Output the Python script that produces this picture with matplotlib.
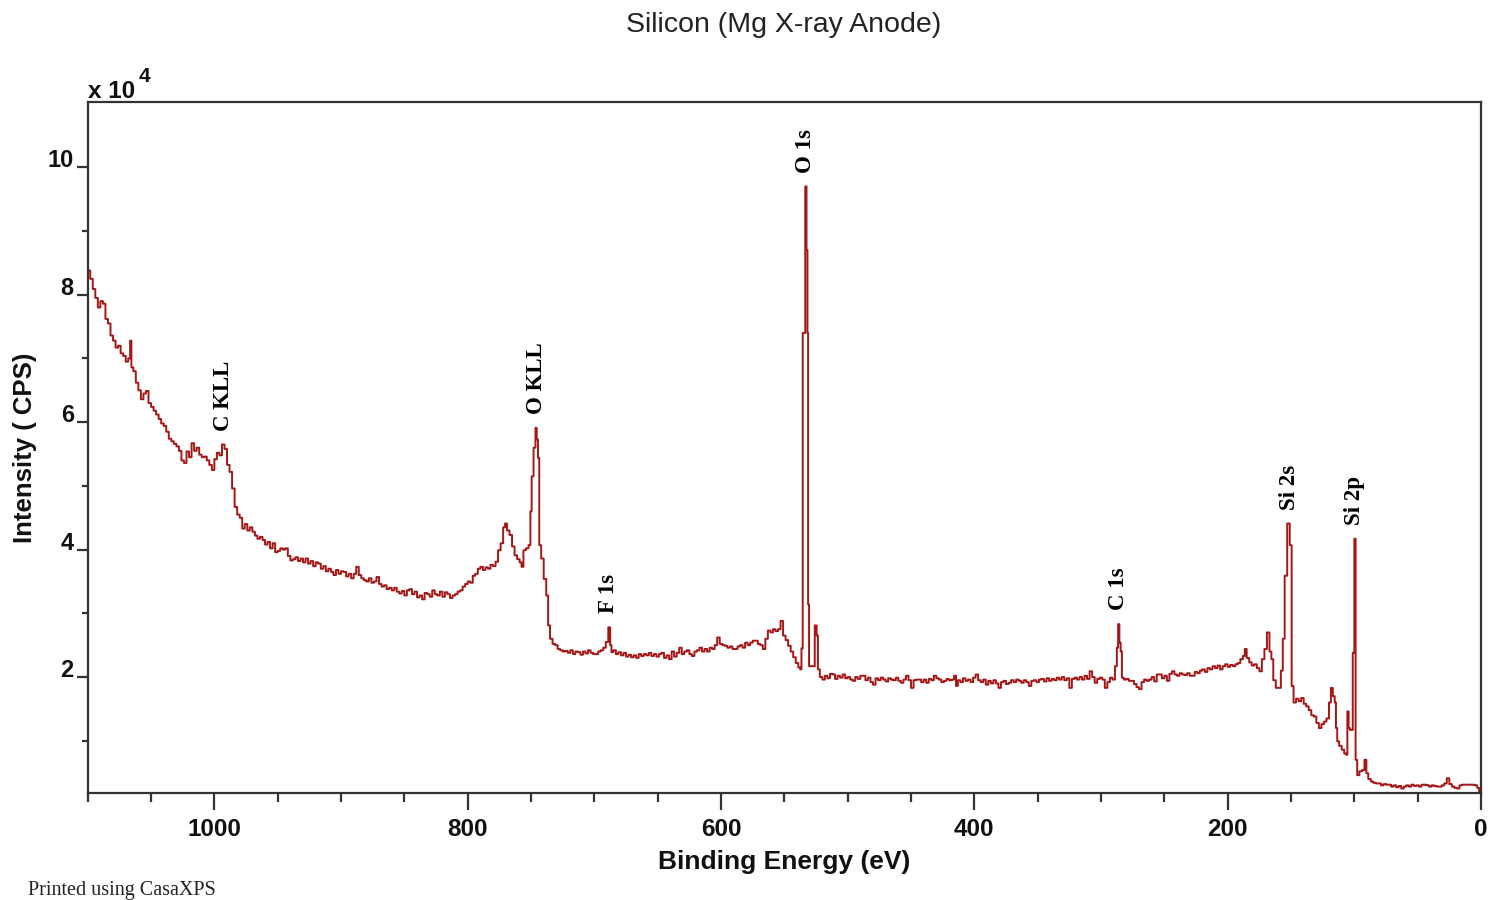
import numpy as np
import matplotlib
matplotlib.use("Agg")
import matplotlib.pyplot as plt
from matplotlib.ticker import MultipleLocator, FixedLocator

# survey spectrum, binding energy (eV) and intensity (x 10^4 CPS)
# background + Auger region, 1100 -> 800 eV
be_auger = [1099, 1097, 1095, 1093, 1091, 1089, 1087, 1085, 1083, 1081, 1079, 1077, 1075, 1073, 1071,
            1069, 1067, 1066, 1065, 1063, 1061, 1059, 1057, 1055, 1053, 1051, 1049, 1047, 1045, 1043,
            1041, 1039, 1037, 1035, 1033, 1031, 1029, 1027, 1025, 1023, 1021, 1019, 1017, 1015, 1013,
            1011, 1009, 1007, 1005, 1003, 1001, 999, 997, 995, 993, 991, 989, 987, 985, 983,
            981, 979, 977, 975, 973, 971, 969, 967, 965, 963, 961, 959, 957, 955, 953,
            951, 949, 947, 945, 943, 941, 939, 937, 935, 933, 931, 929, 927, 925, 923,
            921, 919, 917, 915, 913, 911, 909, 907, 905, 903, 901, 899, 897, 895, 893,
            891, 889, 887, 885, 883, 881, 879, 877, 875, 873, 871, 869, 867, 865, 863,
            861, 859, 857, 855, 853, 851, 849, 847, 845, 843, 841, 839, 837, 835, 833,
            831, 829, 827, 825, 823, 821, 819, 817, 815, 813, 811, 809, 807, 805, 803, 801]
cps_auger = [8.38, 8.25, 8.09, 7.95, 7.80, 7.90, 7.86, 7.62, 7.55, 7.36, 7.28, 7.17, 7.20, 7.08, 7.04,
             6.95, 7.00, 7.28, 6.86, 6.80, 6.62, 6.50, 6.36, 6.45, 6.49, 6.30, 6.24, 6.18, 6.12, 6.05,
             5.98, 5.94, 5.85, 5.74, 5.70, 5.66, 5.62, 5.55, 5.40, 5.36, 5.54, 5.45, 5.67, 5.55, 5.60,
             5.49, 5.45, 5.46, 5.40, 5.33, 5.25, 5.42, 5.52, 5.48, 5.65, 5.58, 5.33, 5.22, 4.96, 4.67,
             4.55, 4.50, 4.33, 4.40, 4.30, 4.35, 4.28, 4.22, 4.17, 4.20, 4.15, 4.08, 4.12, 4.02, 4.10,
             3.96, 3.98, 4.02, 4.00, 4.02, 3.90, 3.83, 3.85, 3.88, 3.82, 3.86, 3.80, 3.86, 3.78, 3.82,
             3.74, 3.80, 3.78, 3.70, 3.74, 3.66, 3.70, 3.65, 3.60, 3.68, 3.62, 3.66, 3.65, 3.58, 3.62,
             3.55, 3.62, 3.73, 3.60, 3.55, 3.52, 3.50, 3.55, 3.48, 3.50, 3.57, 3.46, 3.42, 3.44, 3.38,
             3.40, 3.36, 3.40, 3.34, 3.31, 3.35, 3.28, 3.36, 3.38, 3.30, 3.34, 3.25, 3.28, 3.22, 3.32,
             3.30, 3.26, 3.36, 3.30, 3.28, 3.34, 3.26, 3.33, 3.30, 3.24, 3.28, 3.30, 3.34, 3.36, 3.42, 3.46]

# O KLL, F 1s and O 1s region, 800 -> 520 eV
be_oxygen = [799, 797, 795, 793, 791, 789, 787, 785, 783, 781, 779, 777, 775, 773, 771,
             770, 768, 766, 764, 762, 760, 758, 757, 755, 753, 751, 750, 749, 747, 746,
             745, 744, 743, 741, 739, 737, 736, 734, 732, 730, 728, 726, 724, 722, 720,
             718, 716, 714, 712, 710, 708, 706, 704, 702, 700, 698, 696, 694, 692, 690,
             688, 687, 686, 684, 682, 680, 678, 676, 674, 672, 670, 668, 666, 664, 662,
             660, 658, 656, 654, 652, 650, 648, 646, 644, 642, 640, 638, 636, 634, 632,
             630, 628, 626, 624, 622, 620, 618, 616, 614, 612, 610, 608, 606, 604, 602,
             600, 598, 596, 594, 592, 590, 588, 586, 584, 582, 580, 578, 576, 574, 572,
             570, 568, 566, 564, 562, 560, 558, 556, 554, 552, 550, 548, 546, 544, 542,
             540, 538, 537, 536, 535, 534, 533, 532, 531.5, 531, 530, 529, 528, 527, 525,
             524, 523, 521]
cps_oxygen = [3.50, 3.48, 3.59, 3.62, 3.70, 3.73, 3.68, 3.72, 3.70, 3.76, 3.74, 3.81, 3.99, 4.10, 4.35,
              4.41, 4.30, 4.23, 4.05, 3.91, 3.85, 3.80, 3.73, 3.99, 4.02, 4.07, 4.60, 5.15, 5.60, 5.91,
              5.73, 5.44, 4.07, 3.86, 3.54, 3.28, 2.81, 2.60, 2.52, 2.50, 2.44, 2.42, 2.40, 2.41, 2.38,
              2.42, 2.36, 2.40, 2.39, 2.35, 2.40, 2.37, 2.42, 2.38, 2.36, 2.36, 2.40, 2.42, 2.46, 2.55,
              2.78, 2.50, 2.39, 2.42, 2.36, 2.39, 2.34, 2.38, 2.32, 2.35, 2.31, 2.34, 2.30, 2.36, 2.33,
              2.36, 2.34, 2.38, 2.33, 2.36, 2.32, 2.36, 2.38, 2.30, 2.34, 2.28, 2.40, 2.32, 2.38, 2.46,
              2.36, 2.40, 2.42, 2.36, 2.33, 2.40, 2.42, 2.46, 2.40, 2.44, 2.40, 2.46, 2.44, 2.50, 2.62,
              2.52, 2.50, 2.49, 2.46, 2.48, 2.44, 2.44, 2.48, 2.50, 2.46, 2.54, 2.50, 2.54, 2.57, 2.57,
              2.52, 2.50, 2.44, 2.60, 2.73, 2.70, 2.75, 2.72, 2.75, 2.88, 2.65, 2.58, 2.49, 2.40, 2.31,
              2.22, 2.15, 2.12, 2.45, 7.40, 7.40, 9.70, 8.70, 7.40, 3.14, 2.17, 2.17, 2.17, 2.17, 2.81,
              2.65, 2.12, 2.00]

# flat background and C 1s, 519 -> 190 eV
be_carbon = [519, 517, 515, 513, 511, 509, 507, 505, 503, 501, 499, 497, 495, 493, 491,
             489, 487, 485, 483, 481, 479, 477, 475, 473, 471, 469, 467, 465, 463, 461,
             459, 457, 455, 453, 451, 449, 447, 445, 443, 441, 439, 437, 435, 433, 431,
             429, 427, 425, 423, 421, 419, 417, 415, 414, 412, 410, 408, 406, 404, 402,
             400, 398, 396, 394, 392, 390, 388, 386, 384, 382, 380, 378, 376, 374, 372,
             370, 368, 366, 364, 362, 360, 358, 356, 354, 352, 350, 348, 346, 344, 342,
             340, 338, 336, 334, 332, 330, 328, 326, 324, 322, 320, 318, 316, 314, 312,
             310, 308, 306, 304, 302, 300, 298, 296, 294, 292, 290, 288, 287, 286, 285,
             284, 283, 281, 279, 277, 275, 273, 271, 269, 267, 265, 263, 261, 259, 257,
             255, 253, 251, 249, 247, 245, 243, 241, 239, 237, 235, 233, 231, 229, 227,
             225, 223, 221, 219, 217, 215, 213, 211, 209, 207, 205, 203, 201, 199, 197,
             195, 193, 191]
cps_carbon = [1.96, 2.02, 1.98, 2.05, 2.04, 1.97, 2.02, 1.99, 2.04, 1.98, 2.00, 1.96, 1.94, 2.00, 1.97,
              2.02, 2.02, 1.95, 1.99, 1.92, 1.88, 1.98, 1.95, 1.99, 1.96, 1.93, 1.98, 1.96, 1.95, 1.99,
              1.94, 1.91, 1.96, 2.02, 1.95, 1.83, 1.95, 1.96, 1.96, 1.92, 1.96, 1.91, 1.97, 1.95, 2.02,
              1.98, 1.96, 1.92, 1.94, 1.97, 1.95, 1.96, 2.02, 1.86, 1.95, 1.92, 1.98, 1.94, 1.96, 1.92,
              1.99, 2.04, 1.95, 1.92, 1.96, 1.88, 1.94, 1.90, 1.95, 1.90, 1.83, 1.92, 1.94, 1.89, 1.91,
              1.95, 1.92, 1.96, 1.94, 1.91, 1.95, 1.92, 1.86, 1.94, 1.95, 1.92, 1.96, 1.97, 1.93, 1.98,
              1.94, 1.97, 1.95, 1.99, 1.96, 2.00, 1.95, 1.98, 1.83, 1.97, 1.99, 1.96, 2.00, 1.96, 2.02,
              1.97, 2.09, 2.00, 1.91, 1.97, 1.99, 1.96, 1.83, 1.92, 1.99, 1.96, 2.17, 2.46, 2.83, 2.54,
              2.40, 1.99, 1.96, 1.97, 1.94, 1.94, 1.89, 1.84, 1.81, 1.92, 1.96, 1.94, 1.96, 2.00, 1.93,
              2.04, 2.04, 1.98, 2.02, 1.94, 2.05, 2.09, 2.04, 2.02, 2.06, 2.04, 2.03, 2.06, 2.02, 2.02,
              2.08, 2.06, 2.10, 2.12, 2.08, 2.14, 2.12, 2.17, 2.14, 2.18, 2.12, 2.17, 2.20, 2.16, 2.19,
              2.17, 2.20, 2.22]

# Si 2s / Si 2p region down to 0 eV
be_silicon = [189, 187, 186, 184, 182, 180, 178, 176, 174, 172, 170, 168, 166, 165, 163,
              161, 159, 157, 156, 154, 152, 150, 149, 147, 145, 143, 141, 139, 137, 135,
              133, 131, 129, 127, 125, 123, 121, 119, 118, 116, 115, 114, 113, 111, 109,
              107, 106, 105, 104, 103, 102, 100.5, 99.5, 98.5, 97, 95, 93, 91, 90, 88,
              86, 84, 82, 80, 78, 76, 74, 72, 70, 68, 66, 64, 62, 60, 58,
              56, 54, 52, 50, 48, 46, 44, 42, 40, 38, 36, 34, 32, 30, 28,
              26, 24, 22, 20, 18, 16, 14, 12, 10, 8, 6, 4, 2, 1]
cps_silicon = [2.28, 2.33, 2.44, 2.30, 2.23, 2.18, 2.20, 2.14, 2.09, 2.28, 2.44, 2.70, 2.40, 2.28, 1.95,
               1.83, 1.83, 2.10, 2.60, 3.59, 4.41, 4.07, 1.86, 1.60, 1.66, 1.62, 1.67, 1.58, 1.54, 1.48,
               1.40, 1.38, 1.28, 1.20, 1.26, 1.30, 1.35, 1.60, 1.83, 1.70, 1.60, 1.20, 0.99, 0.92, 0.86,
               0.80, 0.78, 1.46, 1.20, 1.17, 1.17, 2.38, 4.17, 0.70, 0.46, 0.52, 0.54, 0.70, 0.49, 0.40,
               0.36, 0.34, 0.33, 0.33, 0.30, 0.32, 0.31, 0.31, 0.28, 0.30, 0.27, 0.29, 0.25, 0.28, 0.30,
               0.28, 0.31, 0.29, 0.30, 0.28, 0.31, 0.31, 0.30, 0.28, 0.30, 0.29, 0.28, 0.28, 0.30, 0.33,
               0.41, 0.32, 0.28, 0.26, 0.25, 0.30, 0.31, 0.31, 0.31, 0.31, 0.31, 0.30, 0.26, 0.20]

# peak identifications
peak_names = ["C KLL", "O KLL", "F 1s", "O 1s", "C 1s", "Si 2s", "Si 2p"]
peak_be = [992.5, 745.5, 689.0, 533.0, 286.0, 151.0, 99.5]

W, H = 1492, 900
fig = plt.figure(figsize=(W / 100, H / 100), dpi=100)
fig.patch.set_facecolor("white")

left, right, top, bottom = 87.7, 1481.0, 101.7, 793.3
ax = fig.add_axes([left / W, 1 - bottom / H, (right - left) / W, (bottom - top) / H])

be = np.array(be_auger + be_oxygen + be_carbon + be_silicon, dtype=float)
cps = np.array(cps_auger + cps_oxygen + cps_carbon + cps_silicon, dtype=float)

line_col = "#a51616"
ax.plot(be, cps, color=line_col, lw=1.4, drawstyle="steps-mid")

ax.set_xlim(1100, 0)
ax.set_ylim(0.175, 11.03)

axis_col = "#333333"
for sp in ax.spines.values():
    sp.set_color(axis_col)
    sp.set_linewidth(1.6)

ax.xaxis.set_major_locator(FixedLocator([1000, 800, 600, 400, 200, 0]))
ax.xaxis.set_minor_locator(MultipleLocator(50))
ax.yaxis.set_major_locator(FixedLocator([2, 4, 6, 8, 10]))
ax.yaxis.set_minor_locator(FixedLocator([1, 3, 5, 7, 9]))

ax.tick_params(axis="x", which="major", direction="out", length=12, width=1.6,
               color=axis_col, pad=5.5, labelsize=17.5, labelcolor="#111111")
ax.tick_params(axis="x", which="minor", direction="out", length=6.5, width=1.6, color=axis_col)
ax.tick_params(axis="y", which="major", direction="out", length=8, width=1.6,
               color=axis_col, pad=2, labelsize=17, labelcolor="#111111")
ax.tick_params(axis="y", which="minor", direction="out", length=4, width=1.6, color=axis_col)

for lbl in ax.get_xticklabels() + ax.get_yticklabels():
    lbl.set_fontweight("bold")
    lbl.set_family("Liberation Sans")
for lbl in ax.get_yticklabels():
    lbl.set_verticalalignment("baseline")

# peak labels sit just above the peak maximum
for name, pos in zip(peak_names, peak_be):
    near = np.abs(be - pos) <= 2.5
    ymax = cps[near].max()
    ax.annotate(name, xy=(pos, ymax), xytext=(0, 10), textcoords="offset points",
                rotation=90, ha="center", va="bottom", fontsize=16.5,
                fontweight="bold", family="Liberation Serif", color="#000000")

fig.text(784 / W, 1 - 25 / H, "Silicon (Mg X-ray Anode)", ha="center", va="center",
         fontsize=20.5, family="Liberation Sans", color="#222222")
fig.text(784 / W, 1 - 862 / H, "Binding Energy (eV)", ha="center", va="center",
         fontsize=19, fontweight="bold", family="Liberation Sans", color="#111111")
fig.text(25 / W, 1 - 447.5 / H, "Intensity ( CPS)", ha="center", va="center", rotation=90,
         fontsize=18.5, fontweight="bold", family="Liberation Sans", color="#111111")

fig.text(88 / W, 1 - 98 / H, "x 10", ha="left", va="baseline",
         fontsize=17.5, fontweight="bold", family="Liberation Sans", color="#111111")
fig.text(138.5 / W, 1 - 82 / H, "4", ha="left", va="baseline",
         fontsize=15, fontweight="bold", family="Liberation Sans", color="#111111")

fig.text(28 / W, 1 - 895 / H, "Printed using CasaXPS", ha="left", va="baseline",
         fontsize=14.5, family="Liberation Serif", color="#222222")

fig.savefig("out.png", dpi=100, facecolor="white")
